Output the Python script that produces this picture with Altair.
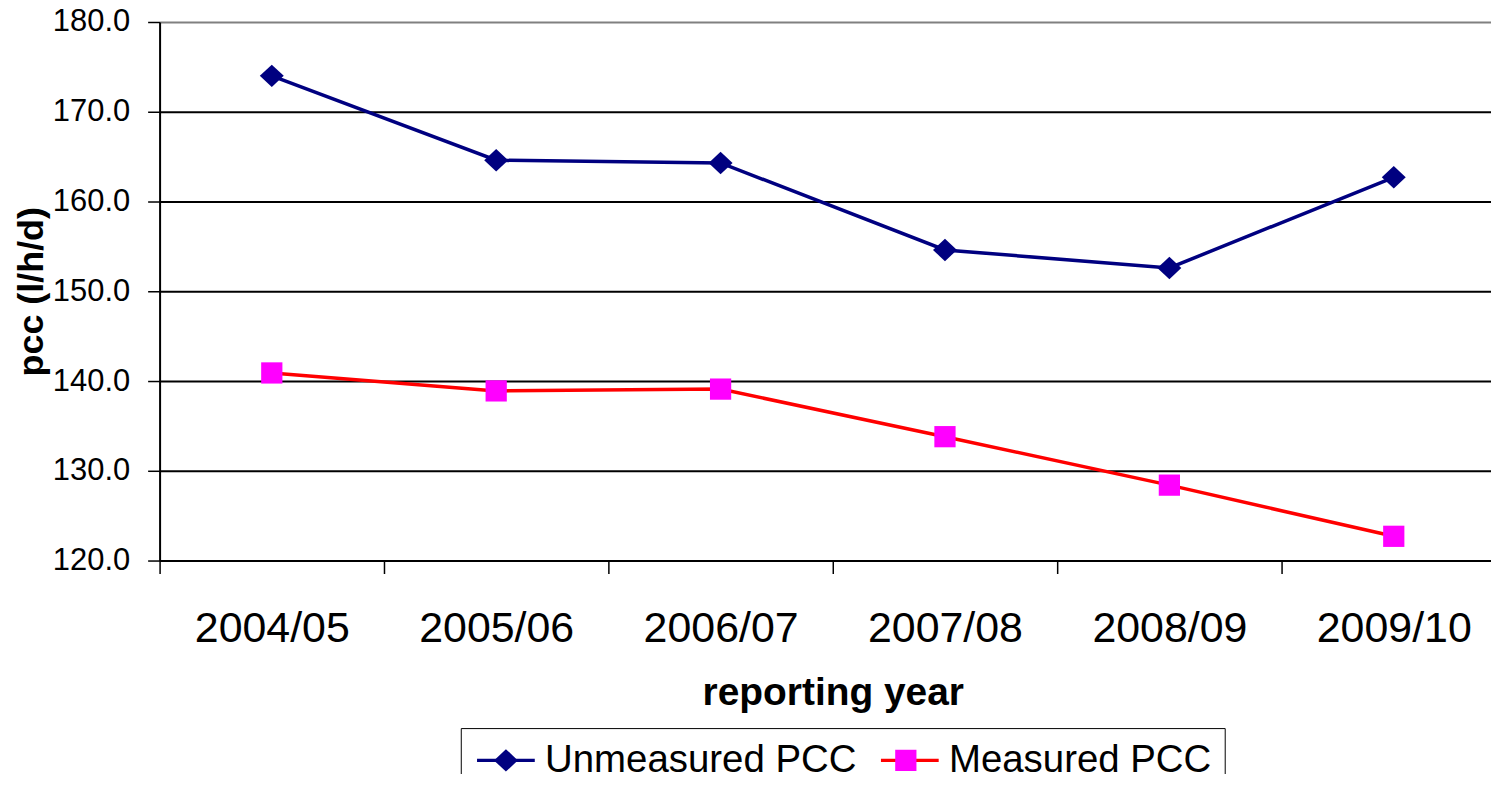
import altair as alt
import pandas as pd

years = ["2004/05", "2005/06", "2006/07", "2007/08", "2008/09", "2009/10"]
unmeasured = [174.0, 164.6, 164.3, 154.6, 152.6, 162.7]
measured = [140.9, 138.9, 139.1, 133.8, 128.4, 122.7]
series_names = ["Unmeasured PCC", "Measured PCC"]
line_colors = ["#000080", "#FF0000"]
marker_colors = ["#000080", "#FF00FF"]
y_ticks = [120, 130, 140, 150, 160, 170, 180]

rows = []
for name, vals in zip(series_names, [unmeasured, measured]):
    for yr, v in zip(years, vals):
        rows.append({"year": yr, "pcc": v, "series": name, "marker": name})
df = pd.DataFrame(rows)

DIAMOND = "M0,-0.75L0.8,0L0,0.75L-0.8,0Z"
SQUARE = "M-0.71,-0.71H0.71V0.71H-0.71Z"
LINE = "M-1.93,0H1.93"
FONT = "Liberation Sans"

x_enc = alt.X(
    "year:N", sort=years,
    scale=alt.Scale(type="band", range=[0, 1350], paddingInner=0, paddingOuter=0),
    axis=alt.Axis(title="reporting year", labelAngle=0, tickBand="extent",
                  labelFontSize=43, titleFontSize=39, tickSize=13, labelPadding=34,
                  titlePadding=23, domainColor="black", domainWidth=2, tickColor="black",
                  tickWidth=1.5, grid=False, labelColor="black", titleColor="black",
                  labelFont=FONT, titleFont=FONT, titleFontWeight="bold"),
)
y_enc = alt.Y(
    "pcc:Q",
    scale=alt.Scale(domain=[120, 180], nice=False, zero=False),
    axis=alt.Axis(title="pcc (l/h/d)", values=y_ticks, format=".1f", labelFontSize=31,
                  titleFontSize=36, tickSize=12, labelPadding=18, titlePadding=2, grid=True,
                  gridColor={"condition": {"test": "datum.value >= 180", "value": "#808080"},
                             "value": "black"},
                  gridWidth=2, domainColor="black", domainWidth=2, tickColor="black",
                  tickWidth=1.5, labelColor="black", titleColor="black", labelFont=FONT,
                  titleFont=FONT, titleFontWeight="bold"),
)

common = dict(orient="none", legendX=302, legendY=708, direction="horizontal", columns=2,
              title=None, symbolSize=900, symbolOffset=13, labelFontSize=38.5, labelFont=FONT,
              labelColor="black", labelOffset=20, columnPadding=17, padding=13, labelLimit=600)

line_legend = alt.Legend(symbolType=LINE, symbolStrokeWidth=3.5, strokeColor="black",
                         fillColor="white", **common)
marker_legend = alt.Legend(labelOpacity=0, symbolStrokeWidth=0, zindex=2, **common)

line = alt.Chart(df).mark_line(strokeWidth=3.5).encode(
    x=x_enc, y=y_enc,
    stroke=alt.Stroke("series:N", sort=series_names,
                      scale=alt.Scale(range=line_colors), legend=line_legend),
)
points = alt.Chart(df).mark_point(filled=True, size=900, strokeWidth=0, opacity=1).encode(
    x=x_enc, y=y_enc,
    fill=alt.Fill("marker:N",
                  scale=alt.Scale(domain=series_names, range=marker_colors),
                  legend=marker_legend),
    shape=alt.Shape("marker:N",
                    scale=alt.Scale(domain=series_names, range=[DIAMOND, SQUARE]),
                    legend=marker_legend),
)

chart = alt.layer(line, points).properties(
    width=1335, height=540,
    autosize=alt.AutoSizeParams(type="none"),
    padding={"left": 152, "top": 13, "right": 0, "bottom": 213},
).configure_view(stroke=None).configure(font=FONT)

chart.save("out.html", embed_options={"renderer": "svg", "actions": False})
